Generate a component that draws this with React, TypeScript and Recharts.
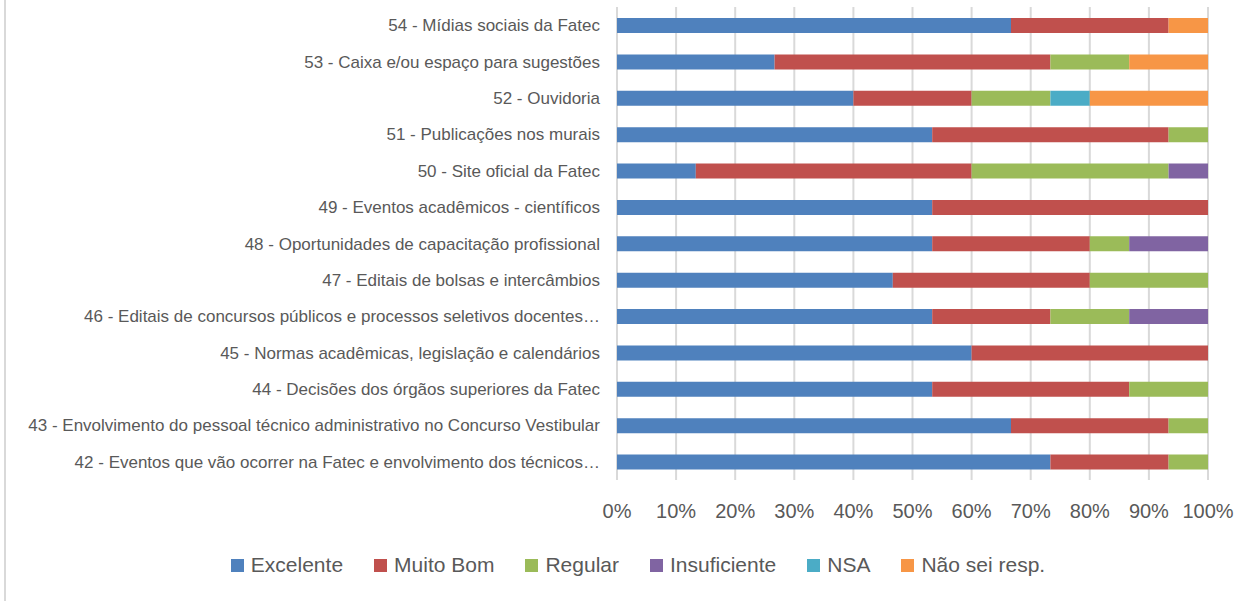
import { BarChart, Bar, XAxis, YAxis, CartesianGrid, Legend } from "recharts";

// respostas por item (contagem de respondentes, total 15)
const items = [
  "54 - Mídias sociais da Fatec",
  "53 - Caixa e/ou espaço para sugestões",
  "52 - Ouvidoria",
  "51 - Publicações nos murais",
  "50 - Site oficial da Fatec",
  "49 - Eventos acadêmicos - científicos",
  "48 - Oportunidades de capacitação profissional",
  "47 - Editais de bolsas e intercâmbios",
  "46 - Editais de concursos públicos e processos seletivos docentes…",
  "45 - Normas acadêmicas, legislação e calendários",
  "44 - Decisões dos órgãos superiores da Fatec",
  "43 - Envolvimento do pessoal técnico administrativo no Concurso Vestibular",
  "42 - Eventos que vão ocorrer na Fatec e envolvimento dos técnicos…",
];

const excelente = [10, 4, 6, 8, 2, 8, 8, 7, 8, 9, 8, 10, 11];
const muitoBom = [4, 7, 3, 6, 7, 7, 4, 5, 3, 6, 5, 4, 3];
const regular = [0, 2, 2, 1, 5, 0, 1, 3, 2, 0, 2, 1, 1];
const insuficiente = [0, 0, 0, 0, 1, 0, 2, 0, 2, 0, 0, 0, 0];
const nsa = [0, 0, 1, 0, 0, 0, 0, 0, 0, 0, 0, 0, 0];
const naoSei = [1, 2, 3, 0, 0, 0, 0, 0, 0, 0, 0, 0, 0];

const xTicks = [0, 0.1, 0.2, 0.3, 0.4, 0.5, 0.6, 0.7, 0.8, 0.9, 1];

const series = [
  { key: "excelente", name: "Excelente", color: "#4f81bd" },
  { key: "muitoBom", name: "Muito Bom", color: "#c0504d" },
  { key: "regular", name: "Regular", color: "#9bbb59" },
  { key: "insuficiente", name: "Insuficiente", color: "#8064a2" },
  { key: "nsa", name: "NSA", color: "#4bacc6" },
  { key: "naoSei", name: "Não sei resp.", color: "#f79646" },
];

const data = items.map((name, i) => ({
  name,
  excelente: excelente[i],
  muitoBom: muitoBom[i],
  regular: regular[i],
  insuficiente: insuficiente[i],
  nsa: nsa[i],
  naoSei: naoSei[i],
}));

const font = "'Liberation Sans', Arial, sans-serif";
const textColor = "#595959";

function LegendContent() {
  return (
    <ul
      style={{
        display: "flex",
        justifyContent: "center",
        margin: 0,
        padding: 0,
        listStyle: "none",
        fontFamily: font,
        fontSize: 21,
        color: textColor,
        lineHeight: "24px",
      }}
    >
      {series.map((s, i) => (
        <li
          key={s.key}
          style={{
            display: "flex",
            alignItems: "center",
            marginRight: i < series.length - 1 ? 31 : 0,
          }}
        >
          <span
            style={{
              display: "inline-block",
              width: 13,
              height: 13,
              background: s.color,
              marginRight: 7,
            }}
          />
          {s.name}
        </li>
      ))}
    </ul>
  );
}

export default function App() {
  return (
    <div
      style={{
        position: "absolute",
        left: 0,
        top: 0,
        width: 1241,
        height: 601,
        background: "#fff",
      }}
    >
      <div
        style={{
          position: "absolute",
          left: 4,
          top: 0,
          bottom: 0,
          width: 2,
          background: "#d9d9d9",
        }}
      />
      <BarChart
        width={1241}
        height={601}
        data={data}
        layout="vertical"
        stackOffset="expand"
        margin={{ top: 7, right: 33, left: 0, bottom: 24 }}
        style={{ fontFamily: font }}
      >
        <CartesianGrid horizontal={false} stroke="#d9d9d9" strokeWidth={2} />
        <XAxis
          type="number"
          domain={[0, 1]}
          ticks={xTicks}
          tickFormatter={(v: number) => `${Math.round(v * 100)}%`}
          axisLine={false}
          tickLine={false}
          tickSize={0}
          tickMargin={24}
          height={73}
          tick={{ fontSize: 20, fill: textColor, fontFamily: font }}
          interval={0}
        />
        <YAxis
          type="category"
          dataKey="name"
          width={617}
          axisLine={false}
          tickLine={false}
          tickSize={0}
          tickMargin={17}
          interval={0}
          tick={{ fontSize: 17, fill: textColor, fontFamily: font }}
        />
        <Legend
          verticalAlign="bottom"
          content={<LegendContent />}
          wrapperStyle={{ left: 35, width: 1206 }}
        />
        {series.map((s) => (
          <Bar
            key={s.key}
            dataKey={s.key}
            name={s.name}
            stackId="a"
            fill={s.color}
            barSize={15}
            isAnimationActive={false}
          />
        ))}
      </BarChart>
    </div>
  );
}
